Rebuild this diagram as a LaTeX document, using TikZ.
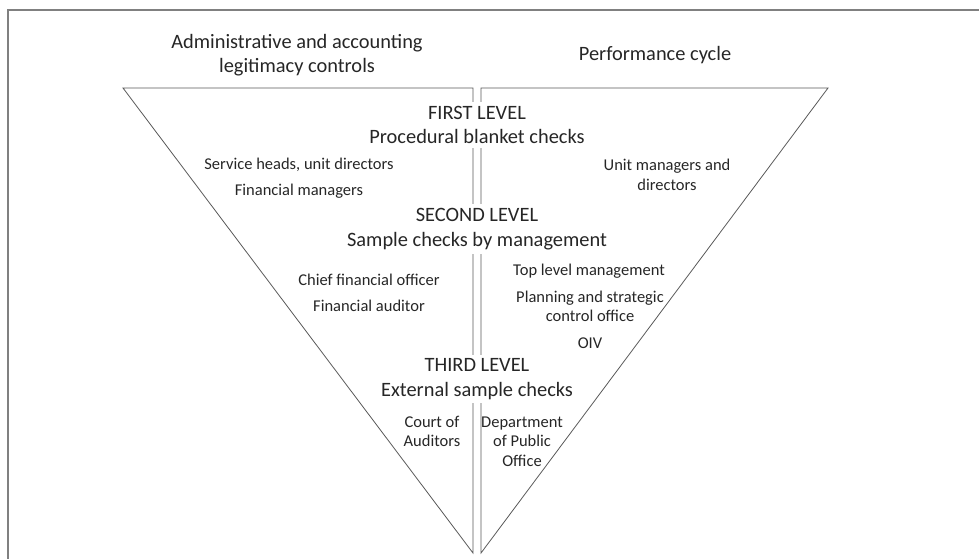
\documentclass[tikz,border=0pt]{standalone}
\usepackage{fontspec}
\setmainfont{Carlito}
\begin{document}
\begin{tikzpicture}[x=1pt,y=-1pt]
    \tikzstyle{head} = [text=black!85,align=center,font=\fontsize{20.4}{24.5}\selectfont]
    \tikzstyle{level} = [head,fill=white,inner xsep=2pt,inner ysep=4pt]
    \tikzstyle{actor} = [text=black!85,align=center,font=\fontsize{16.5}{19.5}\selectfont,inner sep=1pt]
    \tikzstyle{side} = [draw=black!65,line width=0.8pt,line join=miter]

    \useasboundingbox (0,0) rectangle (979,558);
    \draw[black!50,line width=2pt] (8,560) -- (8,9.5) -- (981,9.5);

    % the two halves of the funnel
    \coordinate (LA) at (123,88);
    \coordinate (LB) at (473,88);
    \coordinate (LC) at (473,553);
    \coordinate (RA) at (828,88);
    \coordinate (RB) at (481,88);
    \coordinate (RC) at (481,553);
    \draw[side] (LA) -- (LB) -- (LC) -- cycle;
    \draw[side] (RA) -- (RB) -- (RC) -- cycle;

    \node[head] (adm) at (297,55) {Administrative and accounting\\legitimacy controls};
    \node[head] (perf) at (655,55) {Performance cycle};

    \node[level] (first) at (477,125) {FIRST LEVEL\\Procedural blanket checks};
    \node[level] (second) at (477,229) {SECOND LEVEL\\Sample checks by management};
    \node[level] (third) at (477,379) {THIRD LEVEL\\External sample checks};

    \node[actor] (svc) at (299,165) {Service heads, unit directors};
    \node[actor] (finm) at (299,191) {Financial managers};
    \node[actor] (unit) at (667,175) {Unit managers and\\directors};

    \node[actor] (cfo) at (369,280) {Chief financial officer};
    \node[actor] (fina) at (369,306) {Financial auditor};
    \node[actor] (top) at (589,271) {Top level management};
    \node[actor] (plan) at (590,306.5) {Planning and strategic\\control office};
    \node[actor] (oiv) at (590,343) {OIV};

    \node[actor] (court) at (432,431.5) {Court of\\Auditors};
    \node[actor] (dept) at (522,441.5) {Department\\of Public\\Office};

    %\draw[dashed] (first) -- (second) -- (third);
\end{tikzpicture}
\end{document}
